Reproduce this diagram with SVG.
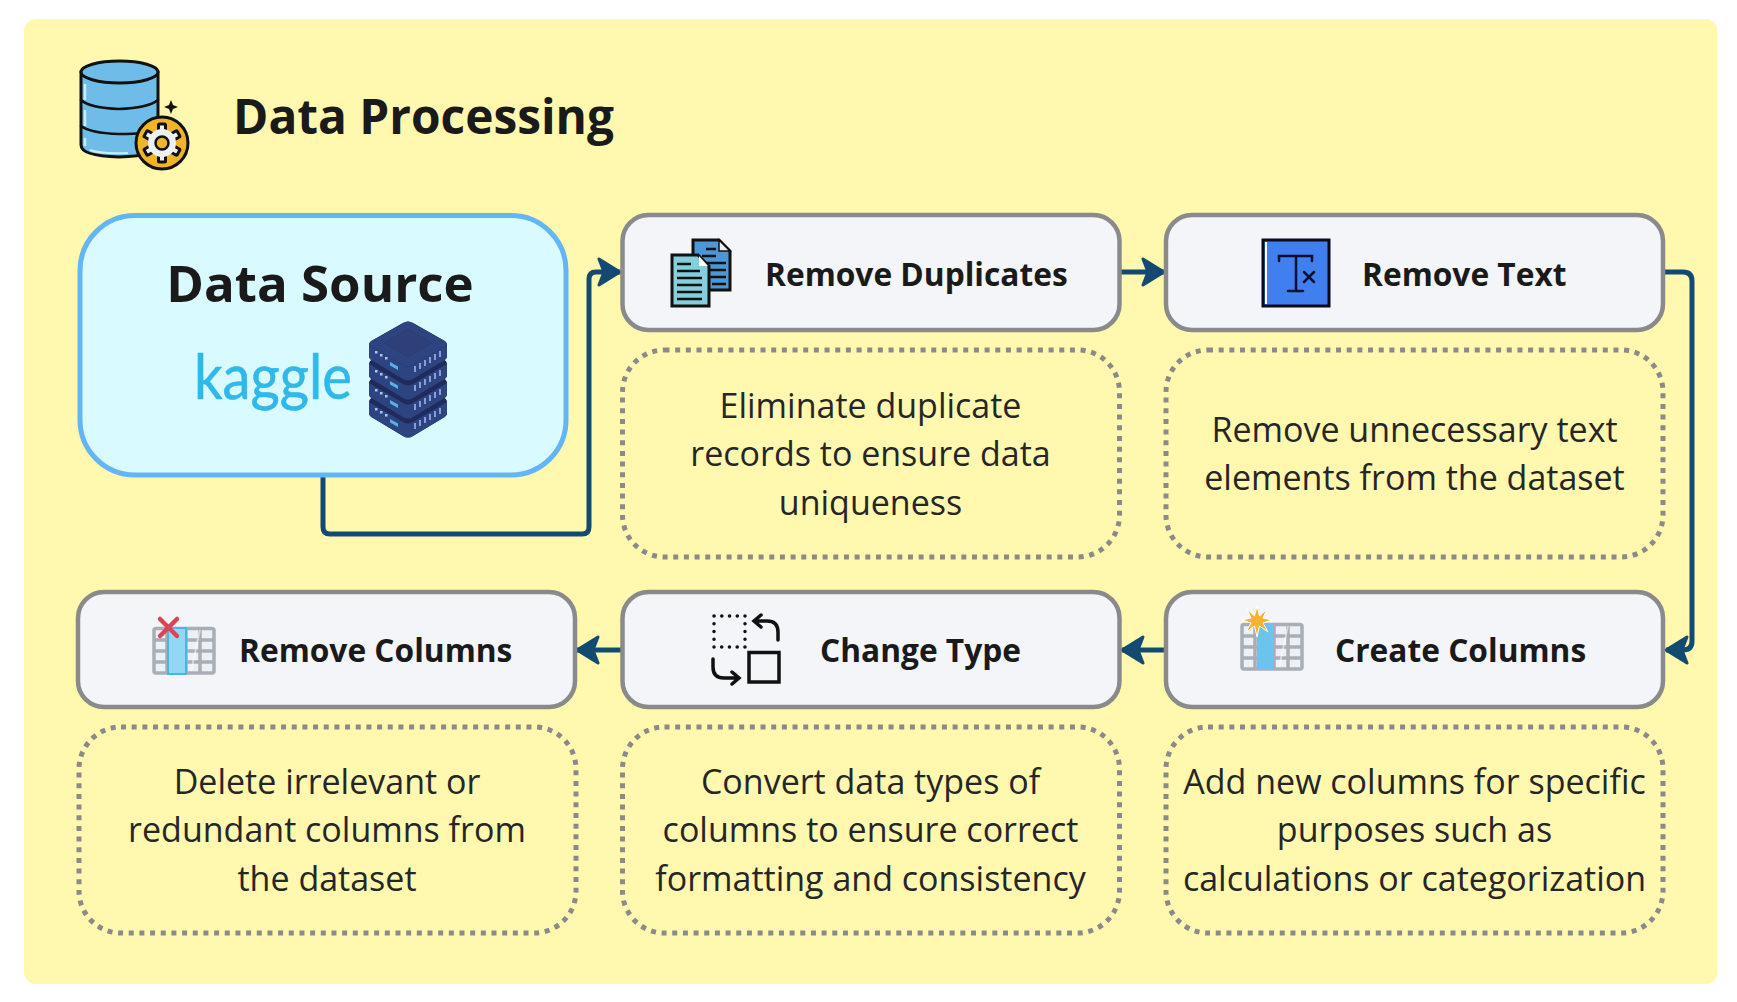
<svg xmlns="http://www.w3.org/2000/svg" width="1737" height="1002" viewBox="0 0 1737 1002">
<style>
text{font-family:"Open Sans","Noto Sans",sans-serif;fill:#1a1a1a}
.t{font-weight:700;font-size:31.700px}
.d{font-size:34px;text-anchor:middle;fill:#262626}
.n{fill:#f3f5f8;stroke:#8a8a8a;stroke-width:4.5}
.b{fill:none;stroke:#8a8a8a;stroke-width:5;stroke-dasharray:5 5.67}
.c{fill:none;stroke:#134a72;stroke-width:5;stroke-linejoin:round}
.k{stroke:#111;fill:none;stroke-linecap:round}
.gl{stroke:#a9adb5;stroke-width:3.5;fill:none}
</style>
<defs>
<marker id="ah" markerUnits="userSpaceOnUse" markerWidth="28" markerHeight="32" refX="24" refY="16" orient="auto">
<path d="M3 3 L24 16 L3 29 L8 16Z" fill="#134a72" stroke="#134a72" stroke-width="3" stroke-linejoin="round"/>
</marker>
<g id="layer">
<path d="M369 345 Q369 342 373 340 L403 323 Q408 320 413 323 L443 340 Q447 342 447 345 L447 356 Q447 359 443 361 L413 379 Q408 382 403 379 L373 361 Q369 359 369 356Z" fill="#1f2b5c"/>
<path d="M369 345 L403 365 Q408 368 413 365 L447 345 L447 356 Q447 359 443 361 L413 379 Q408 382 403 379 L373 361 Q369 359 369 356Z" fill="#2e4480"/>
<path d="M375 351h2.500v2.500h-2.500zM380 354h2.500v2.500h-2.500zM385 357h2.500v2.500h-2.500z" fill="#a9c8f2"/>
<path d="M390 362 L398 366.500 L398 370 L390 365.500Z" fill="#58b0e8"/>
<path d="M415 372V366M420 369V363M425 366V360M430 363V357M435 360V354M440 357V351" stroke="#8fa8e0" stroke-width="1.800" fill="none"/>
</g>
<g id="tooth"><rect x="-3.500" y="-19" width="7" height="8" rx="1"/></g>
<g id="tbl">
<rect x="0" y="0" width="62" height="47" rx="3" fill="#edf0f4"/>
<path class="gl" d="M3 1.500H59Q61 1.500 61 3.500V44Q61 46 59 46H3Q1 46 1 44V3.500Q1 1.500 3 1.500ZM1 13H61M1 24H61M1 35H61M14 1.500V46M33 1.500V46M47 1.500V46"/>
<path d="M37 44 L46 3 L48 3 L39 44Z" fill="#fff" opacity=".5"/>
</g>
</defs>
<rect x="24" y="19" width="1693.500" height="965" rx="12" fill="#fff8ae"/>
<g id="header">
<g id="db-icon">
<path d="M81 72V145Q81 156 119 157Q158 156 158 145V72Z" fill="#70bce8" stroke="#111" stroke-width="3"/>
<ellipse cx="119.500" cy="72" rx="38.500" ry="11" fill="#70bce8" stroke="#111" stroke-width="3"/>
<path class="k" stroke-width="2.500" d="M81 100Q90 108 119 109Q148 108 158 100M81 126Q90 133 119 134Q135 134 140 133"/>
<path d="M85 84V100M85 110V126M85 138V146" stroke="#c8ecfa" stroke-width="2.500" fill="none"/>
<path d="M90 150Q100 154 128 153" stroke="#c8ecfa" stroke-width="2" fill="none"/>
<circle cx="162" cy="143" r="26" fill="#f0b429" stroke="#111" stroke-width="3"/>
<g transform="translate(162 143)">
<g fill="#eef1f4" stroke="#111" stroke-width="3">
<use href="#tooth"/><use href="#tooth" transform="rotate(60)"/><use href="#tooth" transform="rotate(120)"/><use href="#tooth" transform="rotate(180)"/><use href="#tooth" transform="rotate(240)"/><use href="#tooth" transform="rotate(300)"/>
</g>
<circle r="14" fill="#eef1f4"/>
<circle r="6.500" fill="#f0b429" stroke="#111" stroke-width="2.500"/>
</g>
<path d="M171 100 L173 105 L178 107 L173 109 L171 114 L169 109 L164 107 L169 105Z" fill="#111"/>
</g>
<text x="233" y="134" style="font-weight:700;font-size:47.800px">Data Processing</text>
</g>
<g id="connectors">
<path class="c" marker-end="url(#ah)" d="M323 476V527Q323 534 330 534H582Q589 534 589 527V279Q589 272 596 272H620"/>
<path class="c" marker-end="url(#ah)" d="M1120 272H1164"/>
<path class="c" marker-end="url(#ah)" d="M1664 272H1683Q1692 272 1692 281V641Q1692 650 1683 650H1666"/>
<path class="c" marker-end="url(#ah)" d="M1165 650H1122"/>
<path class="c" marker-end="url(#ah)" d="M622 650H577"/>
</g>
<g id="data-source">
<rect x="80" y="215.500" width="486" height="259.500" rx="55" fill="#d9fbff" stroke="#64b5f6" stroke-width="5"/>
<text x="320" y="302" text-anchor="middle" style="font-weight:700;font-size:51px">Data Source</text>
<text x="273" y="399" text-anchor="middle" textLength="158" lengthAdjust="spacingAndGlyphs" style="font-family:Lato,sans-serif;font-size:62px;fill:#2fb9ea;stroke:#2fb9ea;stroke-width:.6">kaggle</text>
<use href="#layer" y="57"/><use href="#layer" y="38"/><use href="#layer" y="19"/><use href="#layer"/>
<path d="M384 343 L408 329 L432 343 L408 357Z" fill="#2f3f78"/>
<path d="M373 340 L403 323 Q408 320 413 323 L443 340 Q447 342 447 345 L413 365 Q408 368 403 365 L369 345 Q369 342 373 340ZM384 343 L408 357 L432 343 L408 329Z" fill="#2e4480" fill-rule="evenodd"/>
</g>
<g id="remove-duplicates">
<rect class="n" x="622.500" y="215" width="497" height="115" rx="26"/>
<path d="M693 240H719L730 251V290H693Z" fill="#4d97d6" stroke="#111" stroke-width="3"/>
<path d="M719 240V251H730Z" fill="#eef1f4" stroke="#111" stroke-width="1.500"/>
<path d="M706 249H716M702 256H716M706 263H726M702 270H726M702 277H726M712 284H726" stroke="#111" stroke-width="2.500"/>
<path d="M672 255H698L709 266V306H672Z" fill="#84cfdc" stroke="#111" stroke-width="3"/>
<path d="M699 256V266H708Z" fill="#fff"/>
<path d="M677 264H691M677 271H700M677 278H702M677 285H702M677 292H702M677 299H702" stroke="#111" stroke-width="2.500"/>
<text class="t" x="765" y="285.500">Remove Duplicates</text>
</g>
<g id="remove-text">
<rect class="n" x="1166" y="215" width="497" height="115" rx="26"/>
<rect x="1263" y="240" width="66" height="66" fill="#3f7fee" stroke="#0b0b20" stroke-width="3"/>
<path d="M1266 242V304" stroke="#fff" stroke-width="2"/>
<path class="k" stroke-width="2.500" d="M1279 261V256H1312V261M1296 256V291M1288 291H1303M1304 272L1314 282M1314 272L1304 282" style="stroke:#0b1030"/>
<text class="t" x="1362" y="285.500">Remove Text</text>
</g>
<g id="create-columns">
<rect class="n" x="1166" y="592" width="497" height="115" rx="26"/>
<use href="#tbl" x="1241" y="623"/>
<rect x="1257" y="624" width="17" height="46" fill="#6cc4ec"/>
<path d="M1257 606L1259.500 616L1267 609L1263 618L1272 620L1263 623L1268 632L1259.500 626L1257 637L1254.500 626L1246 632L1251 623L1242 620L1251 618L1247 609L1254.500 616Z" fill="#f6b32d" stroke="#fff" stroke-width="1"/>
<text class="t" x="1335" y="661.500">Create Columns</text>
</g>
<g id="change-type">
<rect class="n" x="622.500" y="592" width="497" height="115" rx="26"/>
<rect x="714" y="616" width="31" height="31" fill="none" stroke="#111" stroke-width="3.500" stroke-dasharray=".1 7.650" stroke-linecap="round"/>
<rect x="749" y="652.500" width="30" height="29.500" fill="#f3f5f8" stroke="#111" stroke-width="3.500"/>
<path class="k" stroke-width="3.500" d="M778 640V632Q778 621 767 621H755M761 615L754 621L761 627M713 659V667Q713 678 724 678H738M732 672L739 678L732 684"/>
<text class="t" x="820" y="661.500">Change Type</text>
</g>
<g id="remove-columns">
<rect class="n" x="78" y="592" width="497" height="115" rx="26"/>
<use href="#tbl" x="153" y="627"/>
<rect x="168" y="628" width="18" height="46" fill="#92d8f5" stroke="#4db3e0" stroke-width="2"/>
<path d="M160 619L177 636M177 619L160 636" stroke="#dc4454" stroke-width="4.500" stroke-linecap="round"/>
<text class="t" x="239" y="661.500">Remove Columns</text>
</g>
<g id="desc-duplicates"><rect class="b" x="622.500" y="350" width="497" height="207" rx="42"/>
<text class="d" x="870.500" y="417.500">Eliminate duplicate</text><text class="d" x="870.500" y="466">records to ensure data</text><text class="d" x="870.500" y="514.500">uniqueness</text></g>
<g id="desc-text"><rect class="b" x="1166" y="350" width="497" height="207" rx="42"/>
<text class="d" x="1414.500" y="442">Remove unnecessary text</text><text class="d" x="1414.500" y="490">elements from the dataset</text></g>
<g id="desc-create"><rect class="b" x="1166" y="727" width="497" height="206" rx="42"/>
<text class="d" x="1414.500" y="794">Add new columns for specific</text><text class="d" x="1414.500" y="842">purposes such as</text><text class="d" x="1414.500" y="891">calculations or categorization</text></g>
<g id="desc-change"><rect class="b" x="622.500" y="727" width="497" height="206" rx="42"/>
<text class="d" x="870.500" y="794">Convert data types of</text><text class="d" x="870.500" y="842">columns to ensure correct</text><text class="d" x="870.500" y="891">formatting and consistency</text></g>
<g id="desc-columns"><rect class="b" x="79" y="727" width="497" height="206" rx="42"/>
<text class="d" x="327" y="794">Delete irrelevant or</text><text class="d" x="327" y="842">redundant columns from</text><text class="d" x="327" y="891">the dataset</text></g>
</svg>
